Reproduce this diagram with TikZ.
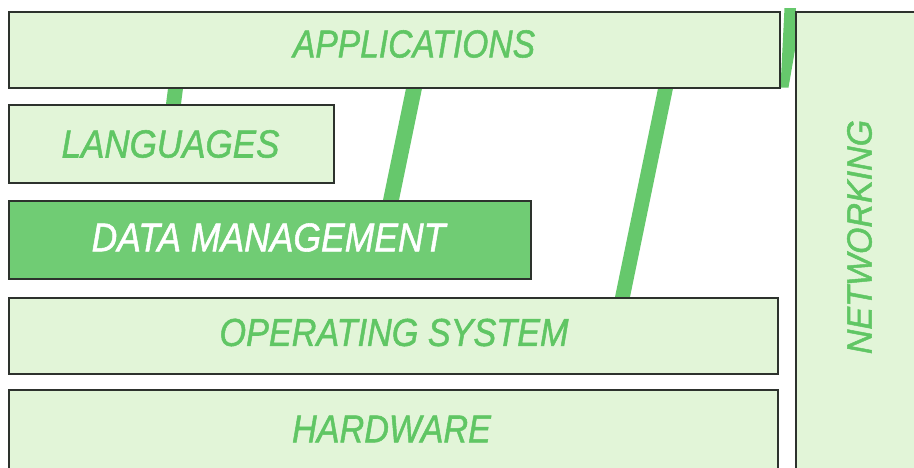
\documentclass[tikz,border=0pt]{standalone}
\usepackage{fontspec}
\setmainfont{Liberation Sans}
\newfontfamily\lblfont{Liberation Sans}[FakeBold=1.4]
\usepackage{graphicx}
\usetikzlibrary{backgrounds}
\definecolor{boxfill}{RGB}{226,245,216}
\definecolor{txtgreen}{RGB}{96,198,100}
\definecolor{dmfill}{RGB}{112,204,116}
\definecolor{conngreen}{RGB}{102,200,108}
\definecolor{edge}{RGB}{45,50,45}
\newcommand{\lbltxt}[3][34]{\scalebox{1}[#2]{\fontsize{#1}{40}\lblfont\itshape #3}}
\begin{document}
\begin{tikzpicture}[x=1pt,y=-1pt,
  box/.style={draw=edge, line width=1.5pt, fill=boxfill, inner sep=0pt, anchor=north west},
  lbl/.style={text=txtgreen, inner sep=0pt},
  conn/.style={fill=conngreen}]
\useasboundingbox (0,0) rectangle (914,467);
\clip (0,0) rectangle (914,467);
% boxes
\node[box, minimum width=771pt, minimum height=76pt] (app) at (8,11) {};
\node[box, minimum width=325pt, minimum height=78pt] (lang) at (8,104) {};
\node[box, fill=dmfill, minimum width=522pt, minimum height=78pt] (dm) at (8,200) {};
\node[box, minimum width=769pt, minimum height=76pt] (os) at (8,297) {};
\node[box, minimum width=769pt, minimum height=100pt] (hw) at (8,389) {};
\node[box, minimum width=140pt, minimum height=470pt] (net) at (795,11) {};
% labels
\node[lbl] (appT) at (414,44) {\lbltxt[33.6]{1.16}{APPLICATIONS}};
\node[lbl] (langT) at (170.5,144) {\lbltxt[35]{1.12}{LANGUAGES}};
\node[lbl, text=white] (dmT) at (268.5,237.5) {\lbltxt[35.5]{1.13}{DATA MANAGEMENT}};
\node[lbl] (osT) at (394,332.5) {\lbltxt[34.2]{1.14}{OPERATING SYSTEM}};
\node[lbl] (hwT) at (391.5,429) {\lbltxt[34.2]{1.14}{HARDWARE}};
\node[lbl, rotate=90] (netT) at (859.5,237) {\lbltxt[34]{1.03}{NETWORKING}};
% connectors
\begin{scope}[on background layer]
\fill[white] (0,0) rectangle (914,467);
\fill[conn] ([xshift=160pt]app.south west) -- ([xshift=175pt]app.south west)
  -- ([xshift=173pt]lang.north west) -- ([xshift=158pt]lang.north west) -- cycle;
\fill[conn] ([xshift=398pt]app.south west) -- ([xshift=414pt]app.south west)
  -- ([xshift=391pt]dm.north west) -- ([xshift=375pt]dm.north west) -- cycle;
\fill[conn] ([xshift=650pt]app.south west) -- ([xshift=665pt]app.south west)
  -- ([xshift=622pt]os.north west) -- ([xshift=607pt]os.north west) -- cycle;
\fill[conn] ([xshift=4pt,yshift=3pt]app.north east) -- ([xshift=1pt,yshift=3pt]net.north west)
  -- ([yshift=-39pt]net.north west) -- ([xshift=8pt,yshift=1pt]app.south east)
  -- ([yshift=1pt]app.south east) -- cycle;
\end{scope}
\end{tikzpicture}
\end{document}
